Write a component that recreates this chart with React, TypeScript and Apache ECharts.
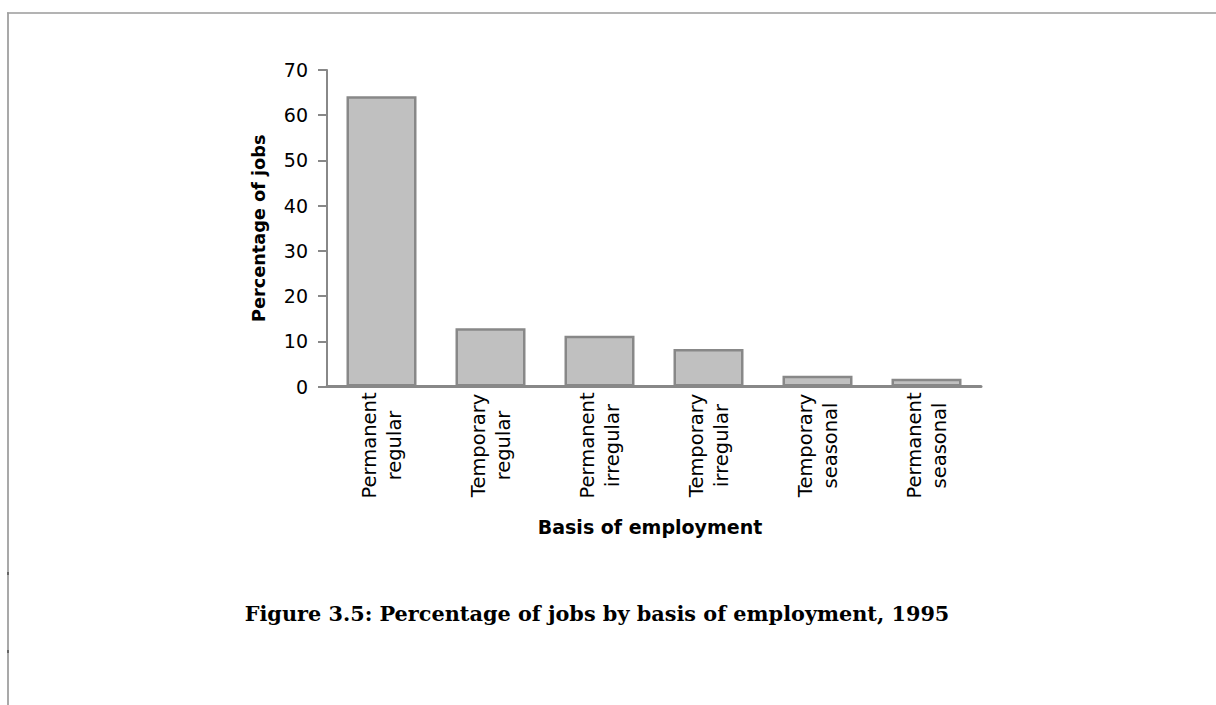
import React, { useEffect, useRef } from "react";
import * as echarts from "echarts";

const categories = [
  "Permanent\nregular",
  "Temporary\nregular",
  "Permanent\nirregular",
  "Temporary\nirregular",
  "Temporary\nseasonal",
  "Permanent\nseasonal",
];
const percentages = [64.2, 12.9, 11.2, 8.3, 2.4, 1.7];
const yAxisTitle = "Percentage of jobs";
const xAxisTitle = "Basis of employment";
const figureTitle = "Figure 3.5: Percentage of jobs by basis of employment, 1995";

export default function App() {
  const ref = useRef<HTMLDivElement>(null);
  useEffect(() => {
    if (!ref.current) return;
    const chart = echarts.init(ref.current, undefined, { renderer: "svg" });
    chart.setOption({
      animation: false,
      backgroundColor: "#ffffff",
      title: {
        text: figureTitle,
        left: 592,
        top: 598,
        textAlign: "center",
        textStyle: {
          fontFamily: "DejaVu Serif",
          fontWeight: "bold",
          fontSize: 20.8,
          color: "#000",
        },
      },
      grid: { left: 327, right: 235, top: 70, bottom: 318.5 },
      xAxis: {
        type: "category",
        data: categories,
        name: xAxisTitle,
        nameLocation: "middle",
        nameGap: 131,
        nameTextStyle: {
          fontFamily: "DejaVu Sans",
          fontWeight: "bold",
          fontSize: 19,
          color: "#000",
          padding: [0, 0, 0, -8],
        },
        axisLine: { show: true, lineStyle: { color: "#888", width: 3 } },
        axisTick: { show: false },
        axisLabel: {
          rotate: 90,
          align: "center",
          margin: 59,
          lineHeight: 25,
          fontFamily: "DejaVu Sans",
          fontSize: 19.5,
          color: "#000",
          interval: 0,
          padding: [0, 0, 10, 0],
        },
        z: 5,
      },
      yAxis: {
        type: "value",
        min: 0,
        max: 70,
        interval: 10,
        name: yAxisTitle,
        nameLocation: "middle",
        nameRotate: 90,
        nameGap: 49,
        nameTextStyle: {
          fontFamily: "DejaVu Sans",
          fontWeight: "bold",
          fontSize: 17.7,
          color: "#000",
          padding: [0, 0, 10, 0],
        },
        axisLine: { show: true, lineStyle: { color: "#888", width: 2 } },
        axisTick: { show: true, length: 9, lineStyle: { color: "#888", width: 2 } },
        splitLine: { show: false },
        axisLabel: {
          margin: 19,
          fontFamily: "DejaVu Sans",
          fontSize: 19,
          color: "#000",
        },
      },
      series: [
        {
          type: "bar",
          data: percentages,
          barWidth: 70,
          itemStyle: {
            color: "#c0c0c0",
            borderColor: "#888888",
            borderWidth: 2.5,
          },
        },
      ],
      graphic: [
        {
          type: "line",
          shape: { x1: 7, y1: 13, x2: 1216, y2: 13 },
          style: { stroke: "#9a9a9a", lineWidth: 1.5 },
          silent: true,
        },
        {
          type: "line",
          shape: { x1: 8, y1: 12.5, x2: 8, y2: 705 },
          style: { stroke: "#a0a0a0", lineWidth: 1.8 },
          silent: true,
        },
        { type: "rect", shape: { x: 7, y: 572, width: 2, height: 3 }, style: { fill: "#666" }, silent: true },
        { type: "rect", shape: { x: 7, y: 650, width: 2, height: 3 }, style: { fill: "#666" }, silent: true },
      ],
    });
    return () => chart.dispose();
  }, []);
  return (
    <div
      ref={ref}
      style={{ position: "fixed", left: 0, top: 0, width: 1216, height: 705 }}
    />
  );
}
